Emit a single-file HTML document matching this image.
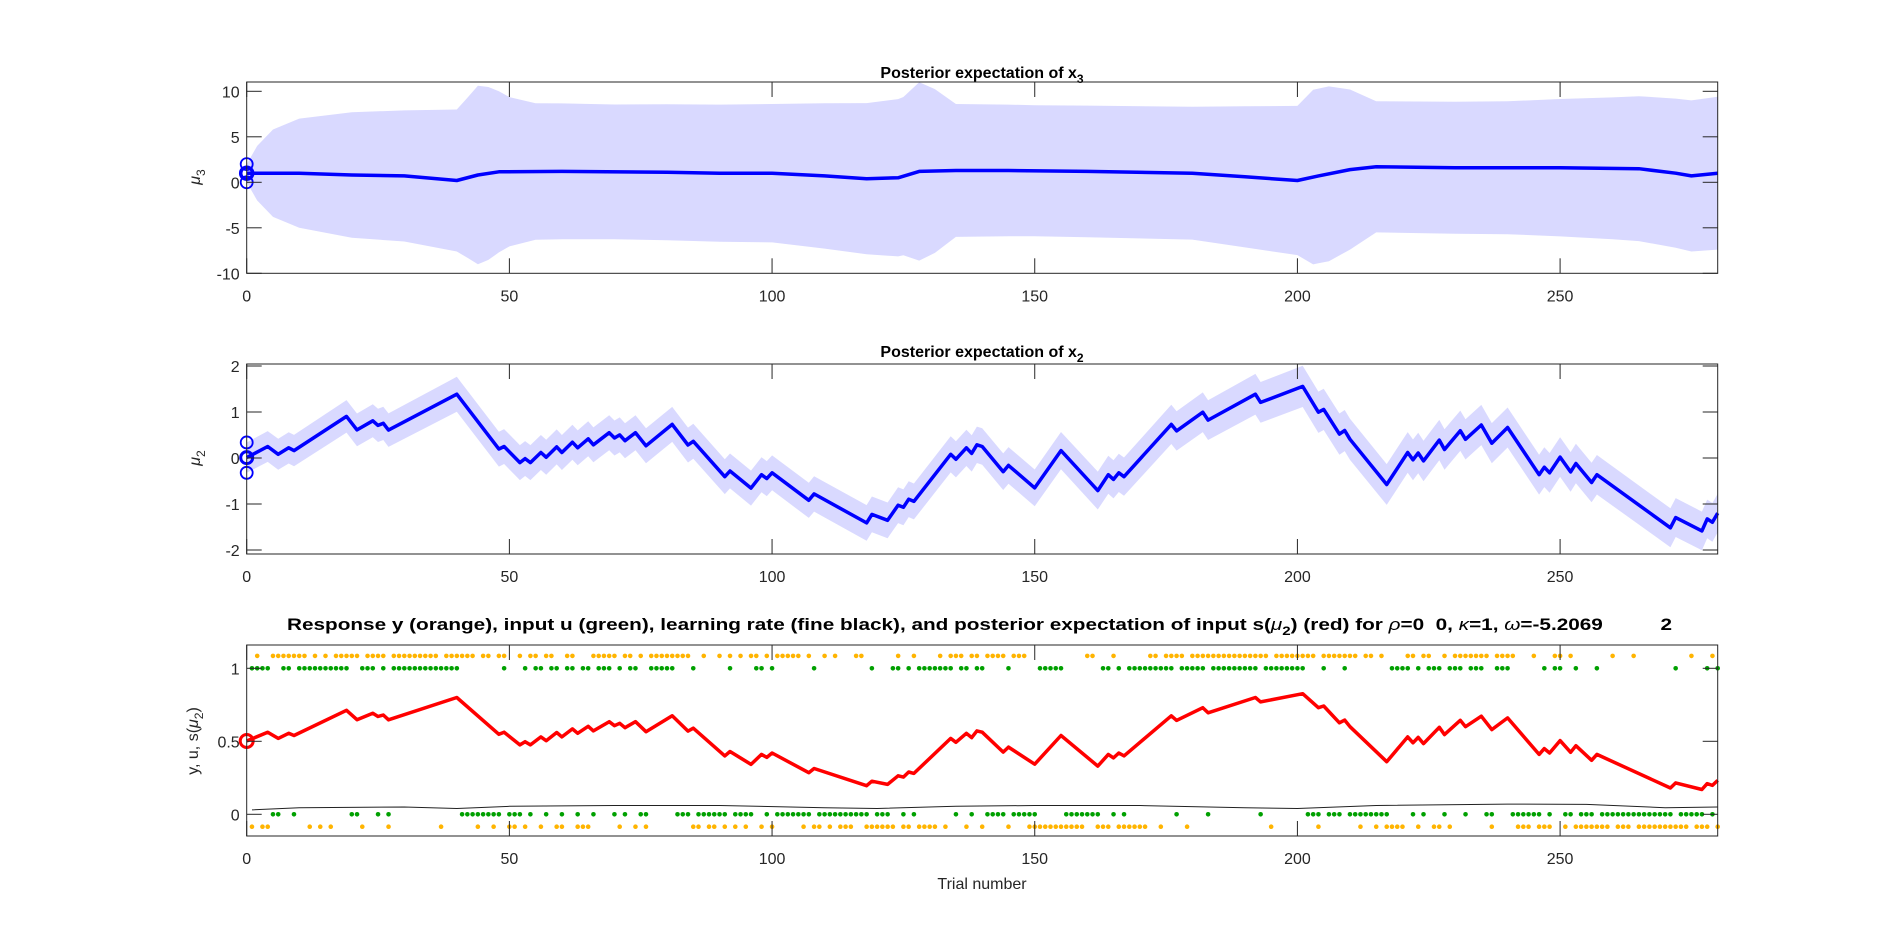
<!DOCTYPE html>
<html><head><meta charset="utf-8"><style>
html,body{margin:0;padding:0;background:#fff;}
svg{display:block;font-family:"Liberation Sans",Arial,sans-serif;}
</style></head><body>
<svg id="fig" width="1897" height="940" viewBox="0 0 1897 940" xmlns="http://www.w3.org/2000/svg">
<rect width="1897" height="940" fill="#fff"/>
<text x="982" y="78" text-anchor="middle" font-weight="bold" font-size="16">Posterior expectation of x<tspan font-size="12" dy="5">3</tspan></text>
<text x="982" y="357" text-anchor="middle" font-weight="bold" font-size="16">Posterior expectation of x<tspan font-size="12" dy="5">2</tspan></text>
<text x="287" y="630" font-weight="bold" font-size="16.5" style="white-space:pre" xml:space="preserve" textLength="1385" lengthAdjust="spacingAndGlyphs">Response y (orange), input u (green), learning rate (fine black), and posterior expectation of input s(<tspan font-style="italic" font-weight="normal">μ</tspan><tspan font-size="12" dy="5">2</tspan><tspan dy="-5">) (red) for </tspan><tspan font-style="italic" font-weight="normal">ρ</tspan>=0  0, <tspan font-style="italic" font-weight="normal">κ</tspan>=1, <tspan font-style="italic" font-weight="normal">ω</tspan>=-5.2069          2</text>
<text transform="translate(200,177) rotate(-90)" text-anchor="middle" font-size="16" fill="#262626"><tspan font-style="italic">μ</tspan><tspan font-size="12" dy="5">3</tspan></text>
<text transform="translate(200,458) rotate(-90)" text-anchor="middle" font-size="16" fill="#262626"><tspan font-style="italic">μ</tspan><tspan font-size="12" dy="5">2</tspan></text>
<text transform="translate(198,741) rotate(-90)" text-anchor="middle" font-size="16" fill="#262626">y, u, s(<tspan font-style="italic">μ</tspan><tspan font-size="12" dy="5">2</tspan><tspan dy="-5">)</tspan></text>
<text x="982" y="889" text-anchor="middle" font-size="16" fill="#262626">Trial number</text>
</svg>
<script>
// ---- data ----
const xTicks = [0, 50, 100, 150, 200, 250];
const y1Ticks = [-10, -5, 0, 5, 10];
const y2Ticks = [-2, -1, 0, 1, 2];
const y3Ticks = [0, 0.5, 1];
const y3TickLabels = ['0', '0.5', '1'];
// mu3 trajectory (vertices) and band half-width
const mu3Trials = [0,10,20,30,40,44,48,60,80,90,100,110,118,124,128,135,145,160,180,190,200,204,210,215,230,250,265,272,275,280];
const mu3Vals   = [1.0,1.0,0.8,0.7,0.2,0.8,1.15,1.2,1.1,1.0,1.0,0.7,0.4,0.5,1.2,1.3,1.3,1.2,1.0,0.6,0.2,0.7,1.4,1.7,1.6,1.6,1.5,1.0,0.7,1.0];
const sd3Trials = [0,2,5,10,20,30,40,42,44,46,50,55,70,100,118,125,128,131,135,150,180,200,203,206,210,215,240,260,275,280];
const sd3Vals   = [1,3,4.8,6,6.9,7.2,7.8,8.8,9.8,9.5,8.2,7.5,7.4,7.6,8.3,8.7,9.8,9,7.3,7.2,7.3,8.2,9.6,9.6,8.8,7.2,7.3,7.8,8.3,8.4];
// s(mu2) vertices; mu2 = logit(s)
const sTrials = [0,4,6,8,9,19,21,24,25,26,27,40,48,49,52,53,54,56,57,59,60,62,63,65,66,69,70,71,72,74,76,81,84,85,91,92,96,98,99,100,107,108,118,119,122,124,125,126,127,134,135,137,138,139,140,144,145,150,155,162,164,165,166,167,176,177,182,183,192,193,201,204,205,208,209,210,217,221,222,223,224,227,228,231,232,235,237,240,246,247,248,250,252,253,256,257,271,272,277,278,279,280];
const sVals   = [0.502,0.562,0.52,0.555,0.54,0.712,0.648,0.692,0.67,0.68,0.647,0.80,0.548,0.562,0.475,0.497,0.475,0.53,0.504,0.56,0.53,0.585,0.555,0.603,0.571,0.634,0.607,0.623,0.593,0.634,0.566,0.675,0.57,0.59,0.40,0.43,0.342,0.41,0.39,0.42,0.285,0.314,0.196,0.227,0.205,0.264,0.255,0.29,0.28,0.52,0.493,0.555,0.525,0.571,0.562,0.426,0.46,0.343,0.54,0.33,0.41,0.386,0.42,0.40,0.675,0.643,0.73,0.695,0.80,0.77,0.826,0.73,0.742,0.627,0.645,0.60,0.36,0.53,0.49,0.527,0.484,0.596,0.546,0.644,0.60,0.672,0.58,0.66,0.41,0.45,0.42,0.505,0.425,0.47,0.37,0.41,0.18,0.215,0.17,0.21,0.198,0.232];
const sd2Trials = [0,40,100,150,200,280];
const sd2Vals   = [0.33,0.38,0.38,0.4,0.45,0.42];
// inputs u (run lengths alternating, starting with 1) and responses y (starting with 0), trials 1..280
const uRuns = [4,2,2,1,10,2,3,1,1,1,13,8,1,3,1,1,2,1,2,1,2,1,2,1,3,1,1,1,2,2,5,3,1,6,1,4,2,1,1,7,1,10,1,3,2,1,1,1,7,1,2,1,2,4,1,5,5,7,2,1,1,1,9,1,5,1,9,1,8,3,1,3,1,8,4,1,1,1,3,1,3,1,3,2,3,6,1,1,2,2,1,3,1,14,1,5,1,1,1];
const yRuns = [1,1,2,7,1,1,1,1,1,5,1,4,1,9,1,6,1,2,1,2,2,1,1,2,1,2,2,2,3,5,1,2,1,1,1,8,2,1,2,1,1,1,1,1,1,2,1,1,1,5,1,1,2,1,1,1,3,2,6,1,2,1,4,1,1,3,1,2,1,4,1,3,11,2,3,1,6,2,1,4,1,15,1,8,1,7,1,2,1,1,4,2,1,2,2,1,1,7,1,4,3,1,3,2,1,1,7,1,3,1,10,1,3,1,1];
// learning rate
const lrTrials = [1,10,30,40,50,70,90,110,120,135,150,170,190,200,215,240,255,270,280];
const lrVals   = [0.03,0.045,0.05,0.04,0.055,0.06,0.06,0.045,0.04,0.055,0.06,0.06,0.045,0.04,0.06,0.07,0.068,0.045,0.05];

// ---- layout ----
const NS = 'http://www.w3.org/2000/svg';
const svg = document.getElementById('fig');
const XL = 246.7, XR = 1717.7;
const X = t => XL + (XR - XL) * t / 280;
const ax1 = {top: 82, bot: 273.3, y: v => 182.3 - 9.1 * v};
const ax2 = {top: 364, bot: 554, y: v => 458 - 46 * v};
const ax3 = {top: 645, bot: 836, y: v => 814.3 - 146 * v};
function mk(tag, attrs, parent) {
  const e = document.createElementNS(NS, tag);
  for (const k in attrs) e.setAttribute(k, attrs[k]);
  (parent || svg).appendChild(e);
  return e;
}
function expand(runs, first) {
  const out = []; let v = first;
  for (const r of runs) { for (let i = 0; i < r; i++) out.push(v); v = 1 - v; }
  return out;
}
const u = expand(uRuns, 1), y = expand(yRuns, 0);
const logit = s => Math.log(s / (1 - s));
const sig = m => 1 / (1 + Math.exp(-m));
function interp(ts, vs, t) {
  if (t <= ts[0]) return vs[0];
  for (let i = 1; i < ts.length; i++) if (t <= ts[i]) { const f = (t - ts[i-1]) / (ts[i] - ts[i-1]); return vs[i-1] + f * (vs[i] - vs[i-1]); }
  return vs[vs.length - 1];
}

// ---- axes 1 ----
let upper = [], lower = [];
const allT1 = [...new Set([...mu3Trials, ...sd3Trials])].sort((a, b) => a - b);
allT1.forEach(t => { const m = interp(mu3Trials, mu3Vals, t), s = interp(sd3Trials, sd3Vals, t);
  upper.push(X(t).toFixed(1) + ',' + ax1.y(m + s).toFixed(1)); lower.unshift(X(t).toFixed(1) + ',' + ax1.y(m - s).toFixed(1)); });
const band1 = mk('polygon', {points: upper.concat(lower).join(' '), fill: '#d9d9ff'});


const line1 = mk('polyline', {points: mu3Trials.map((t, i) => X(t).toFixed(1) + ',' + ax1.y(mu3Vals[i]).toFixed(1)).join(' '), fill: 'none', stroke: '#0000ff', 'stroke-width': 3.5, 'stroke-linejoin': 'round'});


[mu3Vals[0] - 1, mu3Vals[0], mu3Vals[0] + 1].forEach((v, i) => {
  const c = mk('circle', {cx: X(0), cy: ax1.y(v), r: 6, fill: 'none', stroke: '#0000ff', 'stroke-width': i === 1 ? 3.5 : 1.8});
  
  
});

// ---- axes 2 ----
upper = []; lower = [];
sTrials.forEach((t, i) => { const m = logit(sVals[i]), s = interp(sd2Trials, sd2Vals, t);
  upper.push(X(t).toFixed(1) + ',' + ax2.y(m + s).toFixed(1)); lower.unshift(X(t).toFixed(1) + ',' + ax2.y(m - s).toFixed(1)); });
const band2 = mk('polygon', {points: upper.concat(lower).join(' '), fill: '#d9d9ff'});


const clip = mk('clipPath', {id: 'c2'}); mk('rect', {x: XL, y: ax2.top, width: XR - XL, height: ax2.bot - ax2.top}, clip);
band2.setAttribute('clip-path', 'url(#c2)');
const line2 = mk('polyline', {points: sTrials.map((t, i) => X(t).toFixed(1) + ',' + ax2.y(logit(sVals[i])).toFixed(1)).join(' '), fill: 'none', stroke: '#0000ff', 'stroke-width': 3.5, 'stroke-linejoin': 'round'});


[-sd2Vals[0], 0, sd2Vals[0]].forEach((d, i) => {
  const c = mk('circle', {cx: X(0), cy: ax2.y(logit(sVals[0]) + d), r: 6, fill: 'none', stroke: '#0000ff', 'stroke-width': i === 1 ? 3 : 1.8});
  
  
});

// ---- axes 3 ----
u.forEach((v, i) => {
  const c = mk('circle', {cx: X(i + 1), cy: ax3.y(v), r: 2.3, fill: '#00a000'});
  
  
});
y.forEach((v, i) => {
  const c = mk('circle', {cx: X(i + 1), cy: ax3.y(v === 1 ? 1.085 : -0.085), r: 2.3, fill: '#ffb400'});
  
  
});
const lr = mk('polyline', {points: lrTrials.map((t, i) => X(t).toFixed(1) + ',' + ax3.y(lrVals[i]).toFixed(1)).join(' '), fill: 'none', stroke: '#222', 'stroke-width': 1});


const line3 = mk('polyline', {points: sTrials.map((t, i) => X(t).toFixed(1) + ',' + ax3.y(sig(logit(sVals[i]))).toFixed(1)).join(' '), fill: 'none', stroke: '#ff0000', 'stroke-width': 3.5, 'stroke-linejoin': 'round'});


const rc = mk('circle', {cx: X(0), cy: ax3.y(sVals[0]), r: 6.5, fill: 'none', stroke: '#ff0000', 'stroke-width': 3});



// ---- axis frames & ticks ----
function axes(ax, yt, ytl, name) {
  const g = mk('g', {});
  
  
  mk('rect', {x: XL, y: ax.top, width: XR - XL, height: ax.bot - ax.top, fill: 'none', stroke: '#262626', 'stroke-width': 1}, g);
  xTicks.forEach(t => {
    mk('line', {x1: X(t), x2: X(t), y1: ax.bot, y2: ax.bot - 15, stroke: '#262626'}, g);
    mk('line', {x1: X(t), x2: X(t), y1: ax.top, y2: ax.top + 15, stroke: '#262626'}, g);
    const tx = mk('text', {x: X(t), y: ax.bot + 28, 'text-anchor': 'middle', 'font-size': 16, fill: '#262626'}, g);
    tx.textContent = t;
    
    
  });
  yt.forEach((v, i) => {
    mk('line', {x1: XL, x2: XL + 15, y1: ax.y(v), y2: ax.y(v), stroke: '#262626'}, g);
    mk('line', {x1: XR, x2: XR - 15, y1: ax.y(v), y2: ax.y(v), stroke: '#262626'}, g);
    const tx = mk('text', {x: XL - 7, y: ax.y(v) + 6, 'text-anchor': 'end', 'font-size': 16, fill: '#262626'}, g);
    tx.textContent = ytl ? ytl[i] : v;
    
    
  });
}
axes(ax1, y1Ticks, null, 'axes-x3');
axes(ax2, y2Ticks, null, 'axes-x2');
axes(ax3, y3Ticks, y3TickLabels, 'axes-response');
</script>
</body></html>
